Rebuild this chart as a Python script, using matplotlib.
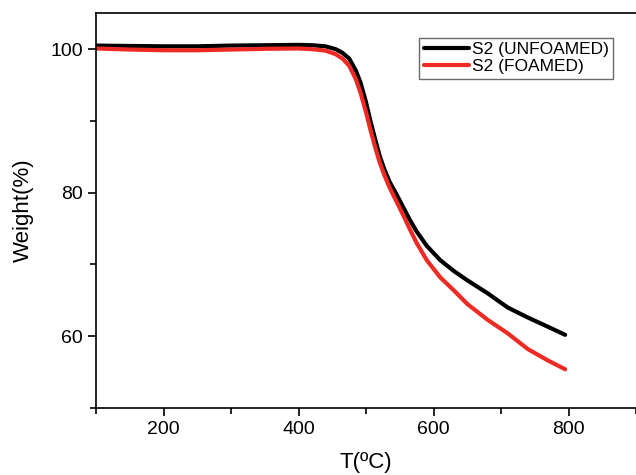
import matplotlib
matplotlib.use("Agg")
import matplotlib.pyplot as plt
from matplotlib.ticker import MultipleLocator

plt.rcParams['font.family'] = ['Liberation Sans', 'DejaVu Sans']

# temperature (C) and weight (%)
T = [100, 150, 200, 250, 300, 350, 400, 420, 440, 455, 465, 475, 485, 492, 500,
     507, 514, 520, 527, 535, 545, 555, 565, 575, 590, 610, 630, 650, 680, 710,
     740, 770, 795]
unfoamed = [100.5, 100.45, 100.4, 100.4, 100.5, 100.55, 100.6, 100.55, 100.4, 100.0,
            99.5, 98.7, 97.0, 95.3, 92.6, 89.8, 87.3, 85.2, 83.3, 81.5,
            79.8, 78.0, 76.2, 74.6, 72.6, 70.6, 69.1, 67.8, 66.0, 64.0,
            62.6, 61.3, 60.2]
foamed = [100.1, 99.95, 99.85, 99.85, 99.95, 100.05, 100.1, 100.0, 99.8, 99.3,
          98.7, 97.7, 95.8, 93.9, 91.2, 88.6, 86.2, 84.3, 82.5, 80.7,
          78.8, 76.9, 74.9, 73.0, 70.6, 68.2, 66.4, 64.5, 62.3, 60.4,
          58.2, 56.6, 55.4]

fig = plt.figure(figsize=(6.36, 4.75), dpi=100)
ax = fig.add_axes([0.151, 0.141, 0.849, 0.831])

ax.plot(T, unfoamed, color='black', lw=3, solid_capstyle='round', label='S2 (UNFOAMED)')
ax.plot(T, foamed, color='#ee2a24', lw=3, solid_capstyle='round', label='S2 (FOAMED)')

ax.set_xlim(100, 900)
ax.set_ylim(50, 105)
ax.xaxis.set_major_locator(MultipleLocator(200))
ax.xaxis.set_minor_locator(MultipleLocator(100))
ax.yaxis.set_major_locator(MultipleLocator(20))
ax.yaxis.set_minor_locator(MultipleLocator(10))
ax.tick_params(which='major', direction='out', length=6, width=1.2, labelsize=14)
ax.tick_params(which='minor', direction='out', length=4, width=1.2)
ax.spines['right'].set_visible(False)
for s in ['left', 'bottom', 'top']:
    ax.spines[s].set_linewidth(1.2)

ax.set_xlabel('T(\u00baC)', fontsize=16, labelpad=10)
ax.set_ylabel('Weight(%)', fontsize=16, labelpad=12)

leg = ax.legend(loc='upper right', bbox_to_anchor=(0.957, 0.9375), fontsize=12.5,
                fancybox=False, edgecolor='#444444', handlelength=2.6,
                borderpad=0.25, labelspacing=0.1, handletextpad=0.15, borderaxespad=0)
leg.get_frame().set_linewidth(1.0)

fig.savefig('out.png', dpi=100)
